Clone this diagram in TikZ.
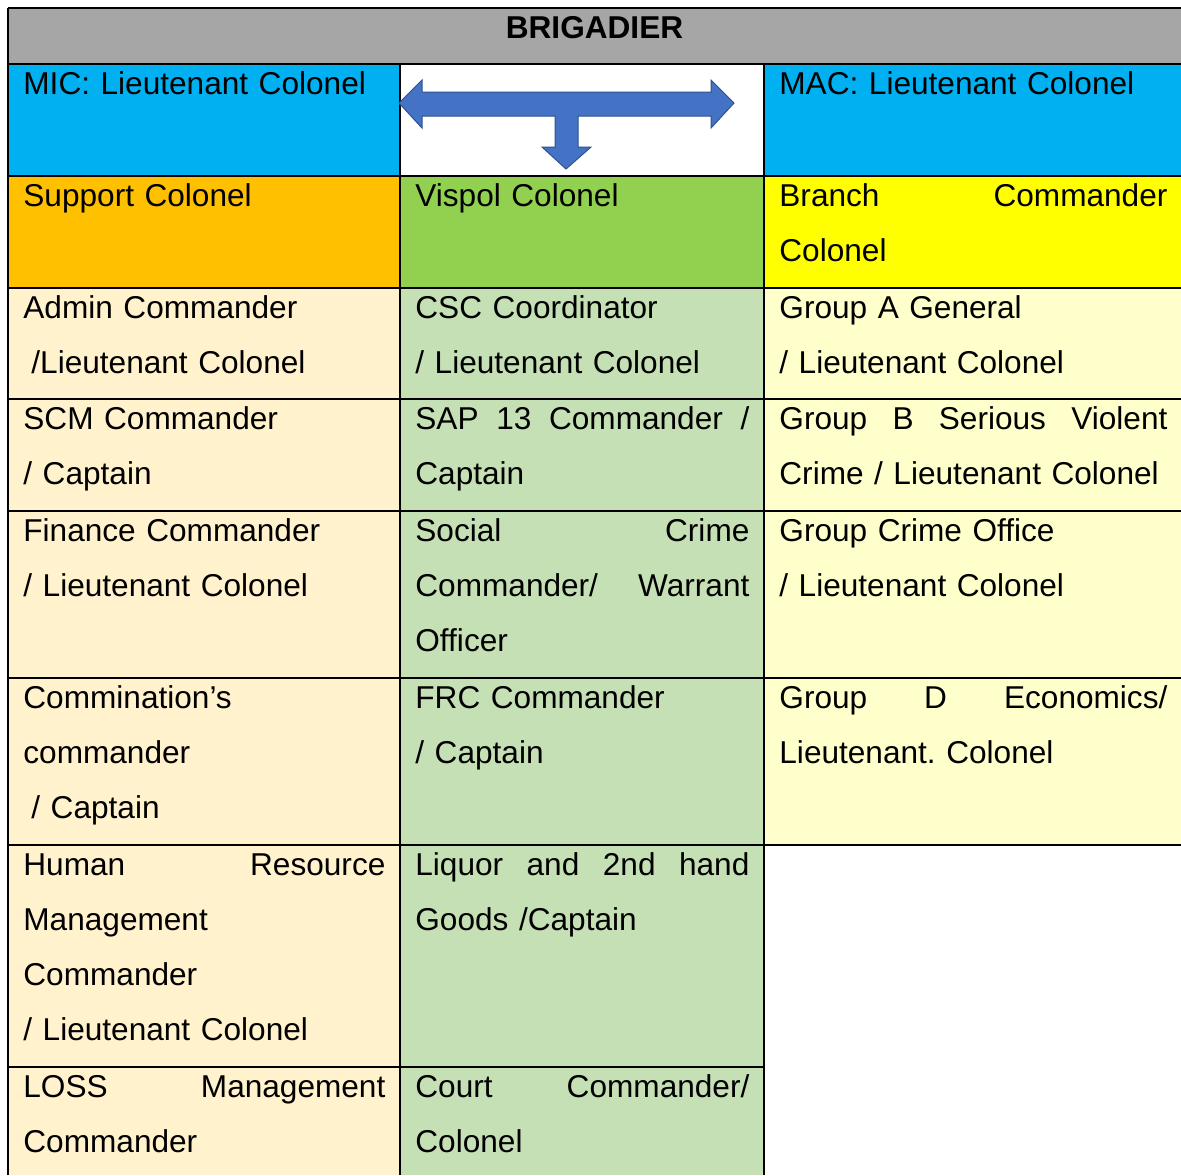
\documentclass[tikz,border=0pt]{standalone}
\usepackage{fontspec}
\setmainfont{Liberation Sans}
\frenchspacing
\definecolor{hdgray}{HTML}{A6A6A6}
\definecolor{micblue}{HTML}{00B0F0}
\definecolor{suporange}{HTML}{FFC000}
\definecolor{visgreen}{HTML}{92D050}
\definecolor{brayellow}{HTML}{FFFF00}
\definecolor{lightorange}{HTML}{FFF2CC}
\definecolor{lightgreen}{HTML}{C5E0B4}
\definecolor{lightyellow}{HTML}{FFFFCC}
\definecolor{arrowblue}{HTML}{4472C4}
\definecolor{arrowedge}{HTML}{2F528F}
\newcommand{\jline}[2]{\leavevmode\hbox to #1{#2}}

\begin{document}
\begin{tikzpicture}[x=0.5pt,y=-0.5pt,
  cell/.style={anchor=north west,inner sep=0pt,text width=#1,align=left,
    font=\fontsize{15.8pt}{27.5pt}\selectfont,
    execute at begin node={\parindent=0pt\rule{0pt}{12pt}}},
  gridline/.style={line width=1pt}]
\useasboundingbox (0,0) rectangle (1181,1175);
% cell colours
\fill[hdgray] (8,8) rectangle (1181,64);
\fill[micblue] (8,64) rectangle (400,176);
\fill[micblue] (764,64) rectangle (1181,176);
\fill[suporange] (8,176) rectangle (400,288);
\fill[visgreen] (400,176) rectangle (764,288);
\fill[brayellow] (764,176) rectangle (1181,288);
\fill[lightorange] (8,288) rectangle (400,1175);
\fill[lightgreen] (400,288) rectangle (764,1175);
\fill[lightyellow] (764,288) rectangle (1181,845);
% grid
\foreach \y in {8,64,176,288,399,511,678,845}
\draw[gridline] (8,\y) -- (1181,\y);
\draw[gridline] (8,1067) -- (764,1067);
\draw[gridline] (8,8) -- (8,1175);
\foreach \x in {400,764}
\draw[gridline] (\x,64) -- (\x,1175);
% arrow
\draw[fill=arrowblue,draw=arrowedge,line width=0.5pt]
  (399,103) -- (422,80) -- (422,92) -- (711,92) -- (711,80) -- (734,103)
  -- (711,128) -- (711,116) -- (578,116) -- (578,147) -- (591,147)
  -- (566,169) -- (542,147) -- (555,147) -- (555,116) -- (422,116)
  -- (422,128) -- cycle;
% texts
\node[anchor=base,font=\fontsize{15.8pt}{18pt}\selectfont\bfseries] (brig) at (594.5,38) {BRIGADIER};
\node[cell=181pt] (mic) at (23,70) {MIC: Lieutenant Colonel};
\node[cell=194pt] (mac) at (779,70) {MAC: Lieutenant Colonel};
\node[cell=181pt] (support) at (23,182) {Support Colonel};
\node[cell=167pt] (vispol) at (415,182) {Vispol Colonel};
\node[cell=194pt] (branch) at (779,182) {\jline{194pt}{Branch\hfil Commander}\\Colonel};
\node[cell=181pt] (admin) at (23,294) {Admin Commander\\\hspace*{4pt}/Lieutenant Colonel};
\node[cell=167pt] (csc) at (415,294) {CSC Coordinator\\/ Lieutenant Colonel};
\node[cell=194pt] (groupa) at (779,294) {Group A General\\/ Lieutenant Colonel};
\node[cell=181pt] (scm) at (23,405) {SCM Commander\\/ Captain};
\node[cell=167pt] (sap) at (415,405) {\jline{167pt}{SAP\hfil 13\hfil Commander\hfil /}\\Captain};
\node[cell=194pt] (groupb) at (779,405) {\jline{194pt}{Group\hfil B\hfil Serious\hfil Violent}\\Crime / Lieutenant Colonel};
\node[cell=181pt] (finance) at (23,517) {Finance Commander\\/ Lieutenant Colonel};
\node[cell=167pt] (social) at (415,517) {\jline{167pt}{Social\hfil Crime}\\\jline{167pt}{Commander/\hfil Warrant}\\Officer};
\node[cell=194pt] (office) at (779,517) {Group Crime Office\\/ Lieutenant Colonel};
\node[cell=181pt] (commin) at (23,684) {Commination’s\\commander\\\hspace*{4pt}/ Captain};
\node[cell=167pt] (frc) at (415,684) {FRC Commander\\/ Captain};
\node[cell=194pt] (groupd) at (779,684) {\jline{194pt}{Group\hfil D\hfil Economics/}\\Lieutenant. Colonel};
\node[cell=181pt] (hrm) at (23,851) {\jline{181pt}{Human\hfil Resource}\\Management\\Commander\\/ Lieutenant Colonel};
\node[cell=167pt] (liquor) at (415,851) {\jline{167pt}{Liquor\hfil and\hfil 2nd\hfil hand}\\Goods /Captain};
\node[cell=181pt] (loss) at (23,1073) {\jline{181pt}{LOSS\hfil Management}\\Commander};
\node[cell=167pt] (court) at (415,1073) {\jline{167pt}{Court\hfil Commander/}\\Colonel};
\end{tikzpicture}
\end{document}
